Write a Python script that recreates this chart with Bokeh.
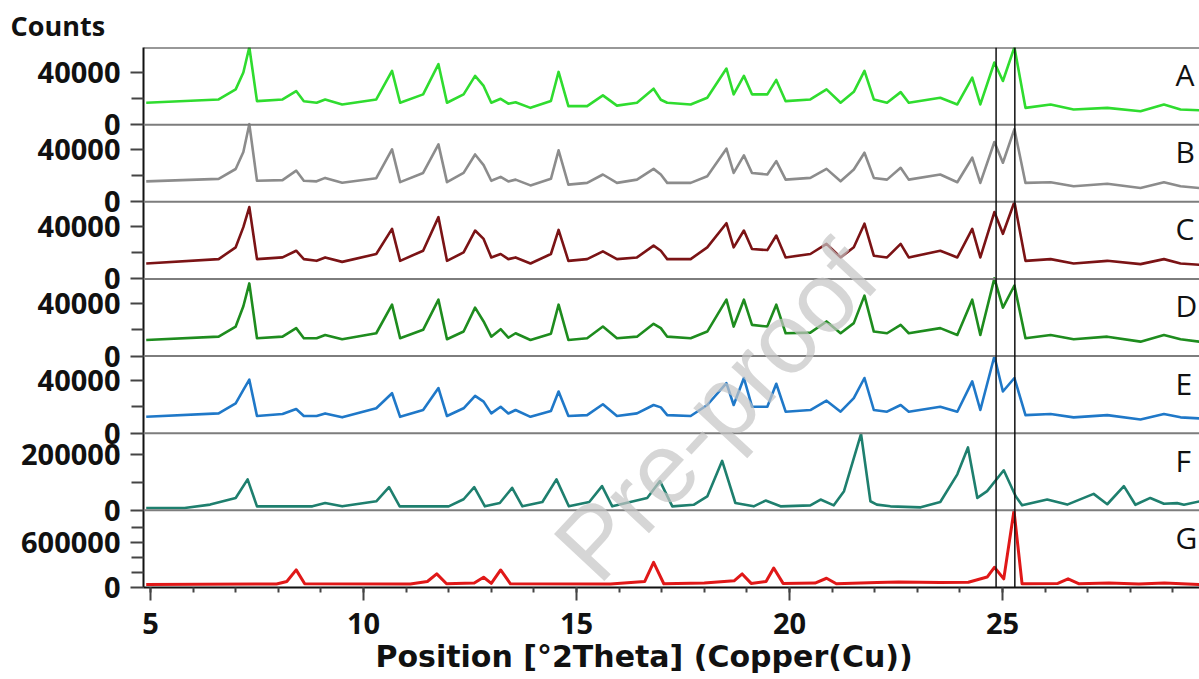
from bokeh.plotting import figure
from bokeh.models import Range1d, FixedTicker, Span, Label, AllLabels, Title
from bokeh.core.properties import value
from bokeh.embed import file_html
from bokeh.resources import INLINE

# ---------------- data ----------------
panel_names = ["A", "B", "C", "D", "E", "F", "G"]
panel_colors = ["#2fdc2f", "#8c8c8c", "#7b1315", "#1e8c1e", "#1f78c8", "#1e7f6e", "#e01818"]

# common 2-theta positions for A-E
x_ae = [4.9, 6.6, 7.0, 7.18, 7.32, 7.5, 8.1, 8.42, 8.6, 8.9,
        9.1, 9.5, 10.3, 10.67, 10.86, 11.4, 11.76, 11.96, 12.35, 12.62,
        12.82, 13.0, 13.22, 13.4, 13.57, 13.92, 14.4, 14.58, 14.81, 15.25,
        15.62, 15.95, 16.42, 16.81, 16.98, 17.13, 17.68, 18.07, 18.52, 18.69,
        18.93, 19.12, 19.48, 19.69, 19.91, 20.49, 20.87, 21.2, 21.51, 21.76,
        21.98, 22.29, 22.61, 22.8, 23.54, 23.94, 24.29, 24.48, 24.81, 25.01,
        25.28, 25.54, 26.13, 26.67, 27.46, 28.24, 28.79, 29.18, 29.62]

y_a = [16700, 19200, 26900, 39800, 59000, 17900, 19200, 25600, 17900, 16700,
       19200, 15400, 19200, 41000, 16700, 23100, 46100, 16700, 23100, 37200,
       29500, 16700, 19700, 16000, 17100, 12800, 18000, 40200, 14100, 14100,
       22300, 14500, 16700, 27400, 19000, 16700, 15400, 20500, 42800, 23100,
       37200, 23100, 23100, 34100, 17900, 19200, 26900, 16700, 25000, 41000,
       19200, 16700, 24800, 16700, 20500, 15400, 35900, 15400, 47400, 33300,
       59000, 12800, 15400, 11500, 12800, 10200, 15400, 11500, 11000]

y_b = [15600, 17500, 25000, 38000, 59200, 16000, 16500, 23800, 16000, 15600,
       18200, 14500, 18000, 40000, 15000, 22000, 43800, 15000, 22000, 36100,
       28000, 16000, 19000, 15500, 16900, 12500, 17500, 39200, 13100, 14400,
       20800, 14400, 16900, 25100, 20800, 14400, 14400, 19500, 40500, 22000,
       35400, 22000, 20800, 31000, 16900, 18200, 25100, 15600, 24600, 37400,
       18200, 16900, 25900, 16900, 20800, 14900, 33600, 14400, 45600, 29800,
       55400, 14400, 14900, 11800, 13800, 10500, 14900, 11800, 10500]

y_c = [11800, 15100, 24100, 39500, 54800, 15100, 16400, 21500, 15100, 13800,
       16400, 13000, 19000, 38200, 13800, 21500, 47100, 13800, 20200, 36900,
       30500, 16400, 19000, 15100, 16400, 11800, 19000, 37400, 13800, 15100,
       21000, 15100, 16400, 25400, 21500, 15100, 15100, 24100, 42500, 24100,
       36900, 22800, 22000, 33100, 16400, 19000, 26700, 16400, 24100, 42100,
       17700, 16400, 26700, 16400, 21500, 16400, 38200, 16400, 51000, 34400,
       58700, 13800, 15100, 11800, 13800, 11300, 15100, 11800, 10800]

y_d = [12300, 14800, 22500, 38000, 55400, 13600, 14800, 21300, 13600, 13600,
       16100, 12800, 17400, 39200, 13600, 20000, 43000, 12800, 18700, 36900,
       26400, 14800, 20500, 14000, 17400, 12300, 17000, 39200, 12300, 13600,
       22500, 13600, 14800, 24600, 21300, 14800, 13600, 18700, 43000, 22500,
       43000, 23800, 22500, 39200, 17400, 17900, 26400, 17400, 25100, 46100,
       18700, 17400, 23800, 17400, 21300, 16100, 43000, 16100, 59200, 37000,
       53800, 13600, 16100, 12800, 14800, 11000, 16100, 12800, 11000]

y_e = [12500, 15100, 22800, 33000, 40800, 13100, 14600, 18500, 13100, 13100,
       15100, 12100, 19000, 30500, 12500, 17700, 34400, 13100, 19000, 28500,
       24100, 15100, 20200, 15000, 17700, 12500, 17000, 31800, 13100, 13800,
       22100, 13100, 15100, 21500, 19700, 13800, 13100, 21500, 38200, 21500,
       42100, 20200, 20200, 37700, 16400, 17700, 24800, 16400, 26700, 42100,
       17700, 16400, 21500, 16400, 20200, 16400, 39500, 17700, 58700, 31800,
       42100, 13800, 14600, 12100, 13800, 10500, 14600, 12100, 11300]

x_f = [4.9, 5.8, 6.4, 7.0, 7.28, 7.5, 8.8, 9.1, 9.5, 10.3,
       10.6, 10.85, 12.0, 12.35, 12.6, 12.85, 13.2, 13.49, 13.73, 14.2,
       14.53, 14.82, 15.3, 15.6, 15.84, 16.66, 16.96, 17.25, 17.75, 18.07,
       18.42, 18.73, 19.16, 19.44, 19.79, 20.49, 20.73, 21.04, 21.28, 21.68,
       21.9, 22.05, 22.37, 23.08, 23.54, 23.94, 24.19, 24.41, 24.64, 25.03,
       25.31, 25.46, 26.05, 26.52, 27.14, 27.46, 27.85, 28.12, 28.47, 28.79,
       29.1, 29.26, 29.62]
y_f = [8400, 8400, 20700, 44700, 111600, 14500, 14500, 26500, 14500, 32700,
       83600, 14500, 14500, 40000, 83600, 14500, 26500, 81100, 14500, 30000,
       111600, 14500, 30000, 87300, 14500, 44700, 105400, 14500, 20000, 50000,
       178200, 26500, 14500, 35300, 14500, 18000, 38900, 18000, 69100, 275000,
       32700, 20700, 14500, 10900, 30000, 129800, 226500, 44700, 69100, 144300,
       50900, 18000, 38900, 20700, 59300, 22000, 87300, 20000, 44700, 24000,
       26000, 20000, 32000]

x_g = [4.9, 7.96, 8.2, 8.42, 8.62, 11.1, 11.5, 11.72, 11.95, 12.6,
       12.82, 13.0, 13.22, 13.45, 15.8, 16.6, 16.81, 17.05, 18.0, 18.7,
       18.89, 19.1, 19.45, 19.63, 19.85, 20.6, 20.87, 21.1, 22.06, 22.56,
       23.54, 24.2, 24.64, 24.81, 25.03, 25.27, 25.46, 26.3, 26.54, 26.8,
       27.5, 28.2, 28.8, 29.62]
y_g = [40000, 47000, 80000, 236000, 50000, 47000, 80000, 182000, 50000, 60000,
       138000, 55000, 235000, 50000, 47000, 80000, 337000, 50000, 60000, 90000,
       182000, 55000, 80000, 262000, 55000, 60000, 124000, 50000, 67000, 73000,
       67000, 71000, 140000, 271000, 116000, 1030000, 49000, 55000, 116000, 50000,
       60000, 47000, 60000, 40000]

series_x = [x_ae, x_ae, x_ae, x_ae, x_ae, x_f, x_g]
series_y = [y_a, y_b, y_c, y_d, y_e, y_f, y_g]

# per-panel y tick values (labelled major, unlabelled minor) and panel top
panel_major = [[0, 40000]] * 5 + [[0, 200000], [0, 600000]]
panel_minor = [[20000]] * 5 + [[100000], [200000, 400000, 800000]]
panel_top = [58823.53] * 5 + [277777.8, 1034483.0]

x_major = [5, 10, 15, 20, 25]
x_minor = list(range(5, 30))
ref_lines = [24.85, 25.29]
x_title = "Position [°2Theta] (Copper(Cu))"
y_title = "Counts"
watermark = "Pre-proof"

# ---------------- figure ----------------
n = len(panel_names)
band = 100.0
p = figure(width=1199, height=679, output_backend="svg", toolbar_location=None,
           x_range=Range1d(4.836, 29.625), y_range=Range1d(0, n * band),
           min_border_left=143, min_border_right=0, min_border_top=47,
           min_border_bottom=92, title=None)
p.background_fill_color = "white"
p.border_fill_color = "white"
p.outline_line_color = None
p.xgrid.visible = False
p.ygrid.visible = False

major_pos, minor_pos, overrides = [], [], {}
for k, name in enumerate(panel_names):
    i = n - 1 - k  # band index from bottom
    top = panel_top[k]
    p.extra_y_ranges[name] = Range1d(start=-i * top, end=(n - i) * top)
    p.line(series_x[k], series_y[k], y_range_name=name, color=panel_colors[k],
           line_width=3 if name == "G" else 2.6, line_join="round")
    for v in panel_major[k]:
        pos = int(round(band * i + band * v / top))
        major_pos.append(pos)
        overrides[pos] = str(v)
    for v in panel_minor[k]:
        minor_pos.append(band * i + band * v / top)
    if i > 0:
        p.add_layout(Span(location=band * i, dimension="width",
                          line_color="#7d7d7d", line_width=2))

p.add_layout(Span(location=n * band, dimension="width", line_color="#333333", line_width=2))
for xv in ref_lines:
    p.add_layout(Span(location=xv, dimension="height", line_color="#111111", line_width=1.5))

font = "Open Sans"
# y axis
ya = p.yaxis[0]
ya.ticker = FixedTicker(ticks=sorted(major_pos), minor_ticks=minor_pos)
ya.major_label_overrides = overrides
ya.major_label_policy = AllLabels()
ya.major_tick_in = 0
ya.major_tick_out = 13
ya.minor_tick_in = 0
ya.minor_tick_out = 12
ya.major_tick_line_color = "#444444"
ya.minor_tick_line_color = "#444444"
ya.major_tick_line_width = 2
ya.minor_tick_line_width = 2
ya.axis_line_color = "#111111"
ya.axis_line_width = 2
ya.major_label_standoff = 10
ya.major_label_text_font = font
ya.major_label_text_font_style = "bold"
ya.major_label_text_font_size = "29px"
ya.major_label_text_color = "#111111"

# x axis
xa = p.xaxis[0]
xa.ticker = FixedTicker(ticks=x_major, minor_ticks=x_minor)
xa.major_tick_in = 0
xa.major_tick_out = 13
xa.minor_tick_in = 0
xa.minor_tick_out = 5
xa.major_tick_line_color = "#444444"
xa.minor_tick_line_color = "#444444"
xa.major_tick_line_width = 2
xa.minor_tick_line_width = 2
xa.axis_line_color = "#111111"
xa.axis_line_width = 2
xa.major_label_standoff = 12
xa.major_label_text_font = font
xa.major_label_text_font_style = "bold"
xa.major_label_text_font_size = "29px"
xa.major_label_text_color = "#111111"

# panel letters
p.text(x=[29.06] * n, y=[band * (n - 1 - k) + 65 for k in range(n)], text=panel_names,
       text_font=value(font), text_font_size="30px", text_color="#111111",
       text_align="left", text_baseline="middle")

# axis titles
p.add_layout(Title(text=x_title, align="left", offset=232, standoff=0,
                   text_font="DejaVu Sans", text_font_style="bold",
                   text_font_size="30px", text_color="#111111"), "below")
p.add_layout(Title(text=y_title, align="left", offset=-133, standoff=8,
                   text_font=font, text_font_style="bold",
                   text_font_size="27px", text_color="#111111"), "above")

# watermark (kept inside the plot area)
p.add_layout(Label(x=18.26, y=229, text=watermark, angle=0.82,
                   text_font="Liberation Sans", text_font_size="100px",
                   text_color="#c4c4c4", text_alpha=0.7,
                   text_align="center", text_baseline="middle"))

open("out.html", "w").write(file_html(p, INLINE))
